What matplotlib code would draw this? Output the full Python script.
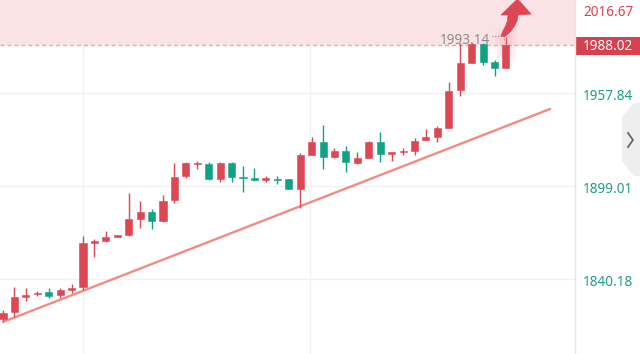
import matplotlib
matplotlib.use('Agg')
import matplotlib.pyplot as plt
import matplotlib.transforms as mtransforms
from matplotlib.patches import Polygon, Rectangle

# ---- data ----
opens = [1814.9, 1819.3, 1828.8, 1830.7, 1832.0, 1830.1, 1833.2, 1835.1, 1863.0, 1864.2,
         1867.0, 1868.0, 1878.1, 1882.6, 1876.9, 1890.2, 1905.3, 1912.6, 1912.9, 1903.4,
         1913.6, 1904.4, 1904.1, 1903.1, 1903.1, 1903.4, 1897.1, 1918.6, 1926.8, 1917.3,
         1921.1, 1913.6, 1916.7, 1926.8, 1919.2, 1920.2, 1921.1, 1928.1, 1930.0, 1935.7,
         1959.7, 1976.8, 1988.8, 1977.4, 1973.6]
closes = [1818.7, 1828.8, 1830.1, 1831.3, 1829.4, 1833.2, 1834.5, 1863.0, 1863.9, 1866.7,
          1867.4, 1878.1, 1882.6, 1876.9, 1889.5, 1904.7, 1913.6, 1913.2, 1903.4, 1913.6,
          1904.7, 1903.8, 1902.8, 1903.8, 1902.5, 1897.1, 1918.6, 1926.8, 1917.3, 1921.1,
          1914.2, 1916.7, 1926.8, 1919.2, 1920.5, 1920.8, 1927.5, 1930.0, 1935.7, 1959.1,
          1976.8, 1988.8, 1977.4, 1973.6, 1988.02]
highs = [1820.6, 1835.1, 1834.5, 1832.6, 1834.5, 1834.5, 1837.0, 1867.4, 1865.5, 1870.5,
         1867.7, 1894.6, 1889.5, 1884.5, 1893.3, 1913.6, 1914.2, 1914.8, 1914.2, 1914.2,
         1914.2, 1911.7, 1910.4, 1905.3, 1905.3, 1903.4, 1919.9, 1930.0, 1937.6, 1923.0,
         1924.3, 1920.5, 1927.5, 1933.2, 1920.5, 1923.0, 1929.4, 1935.1, 1937.0, 1964.8,
         1989.5, 1989.5, 1989.5, 1978.7, 1993.14]
lows = [1813.6, 1816.1, 1826.3, 1829.4, 1828.2, 1828.2, 1831.3, 1833.2, 1854.1, 1863.6,
        1866.7, 1867.4, 1872.4, 1871.8, 1876.2, 1888.2, 1904.1, 1909.8, 1902.8, 1901.5,
        1901.5, 1895.2, 1902.2, 1901.5, 1900.3, 1897.1, 1885.1, 1918.6, 1909.8, 1916.7,
        1907.9, 1912.9, 1916.7, 1914.2, 1914.8, 1918.6, 1918.6, 1928.1, 1926.8, 1935.7,
        1955.9, 1976.8, 1975.5, 1968.6, 1973.6]

ytick_values = [1957.84, 1899.01, 1840.18]
ytick_labels = ['1957.84', '1899.01', '1840.18']
top_value = 2016.67
top_label = '2016.67'
last_price = 1988.02
last_label = '1988.02'
high_value = 1993.14
high_label = '1993.14'
trend_x = [0, 47.86]
trend_y = [1812.97, 1947.72]
vgrid_x = [7, 26.85]

# ---- style ----
RED = '#dc4753'
GREEN = '#12a185'
GRID = '#f1f1f3'
FONT = ['Noto Sans', 'DejaVu Sans']
W, H = 640.0, 354.0


def fpt(x, y):
    """pixel (from top-left) -> figure fraction"""
    return (x / W, 1 - y / H)


fig = plt.figure(figsize=(6.4, 3.54), dpi=100)
fig.patch.set_facecolor('white')
ax = fig.add_axes([0, 0, 575 / W, 1])
ax.set_xlim(-0.26, 50.04)
ax.set_ylim(1792.7, top_value)
ax.axis('off')

# grid
for v in ytick_values:
    ax.axhline(v, color=GRID, lw=1, zorder=0)
for v in vgrid_x:
    ax.axvline(v, color=GRID, lw=1, zorder=0)

# pink zone above last price
ax.axhspan(last_price, top_value, color='#fbe2e5', zorder=0.5, lw=0)
ax.axhline(last_price, color='#f1a4ac', lw=1, ls=(0, (3, 2)), zorder=0.6)

# trend line
ax.plot(trend_x, trend_y, color='#f38a84', lw=1.7, zorder=2, solid_capstyle='round')

# candles
n = len(opens)
xs = list(range(n))
unit = (top_value - 1792.7) / H
for i in xs:
    o, c, h, l = opens[i], closes[i], highs[i], lows[i]
    col = RED if c >= o else GREEN
    ax.vlines(i, l, h, color=col, lw=1.0, zorder=3)
    bottom = min(o, c)
    height = max(abs(c - o), unit * 1.2)
    ax.bar(i, height, bottom=bottom, width=0.62, color=col, edgecolor=col, lw=0.4, zorder=4)

# glow around the last candle
for k, a in enumerate([0.10, 0.08, 0.06]):
    ax.add_patch(Rectangle((n - 1 - 0.5 - k * 0.25, last_price - 6 - k * 2), 1.0 + k * 0.5,
                           12 + k * 4, color='#f08a95', alpha=a, lw=0, zorder=3.5))

# high label with dotted leader
ax.text(42.65, high_value - 2.2, high_label, ha='right', va='center', color='#8c8c8c',
        fontsize=9.8, family=FONT, zorder=6)
ax.plot([42.75, 43.85], [high_value + 0.8, high_value + 0.8], color='#8c8c8c', lw=0.8,
        ls=(0, (1, 1.5)), zorder=6)
ax.plot([43.85, 43.85], [high_value + 0.8, high_value - 1.8], color='#8c8c8c', lw=0.8,
        ls=(0, (1, 1.5)), zorder=6)

# red curved arrow (decoration)
arrow_px = [(501, 36), (503, 31), (505.5, 26), (507.5, 21), (508, 15), (501, 15),
            (517.5, -1), (531, 14), (518, 15), (517, 21), (514, 27), (510, 32), (505, 36.5)]
fig.add_artist(Polygon([fpt(x, y) for x, y in arrow_px], closed=True,
                       transform=fig.transFigure, color='#dc4753', lw=0.5, zorder=7))

# right axis area
trans = mtransforms.blended_transform_factory(fig.transFigure, ax.transData)
fig.add_artist(plt.Line2D([575 / W, 575 / W], [0, 1], color='#e4e6ee', lw=1,
                          transform=fig.transFigure))
for v, lab in zip(ytick_values, ytick_labels):
    ax.text(583 / W, v - 2.0, lab, transform=trans, ha='left', va='center',
            color='#1f9e84', fontsize=9.8, family=FONT, clip_on=False)
fig.text(583 / W, 1 - 12 / H, top_label, ha='left', va='center', color='#d9434f',
         fontsize=9.8, family=FONT)

# last price box
fig.add_artist(Rectangle(fpt(575, 55), 65 / W, 18 / H,
                         transform=fig.transFigure, color='#d5414f', lw=0))
fig.text(583 / W, 1 - 46 / H, last_label, ha='left', va='center', color='white',
         fontsize=9.8, family=FONT)

# gray side button
pts = [(640, 103), (634, 103), (622, 117), (622, 161), (634, 176), (640, 176)]
fig.add_artist(Polygon([fpt(x, y) for x, y in pts], closed=True,
                       transform=fig.transFigure, color='#eeeeef', lw=0))
fig.add_artist(plt.Line2D([628 / W, 633 / W, 628 / W],
                          [1 - 133 / H, 1 - 140 / H, 1 - 147 / H],
                          color='#666666', lw=1.3, transform=fig.transFigure))

fig.savefig('out.png', dpi=100)
